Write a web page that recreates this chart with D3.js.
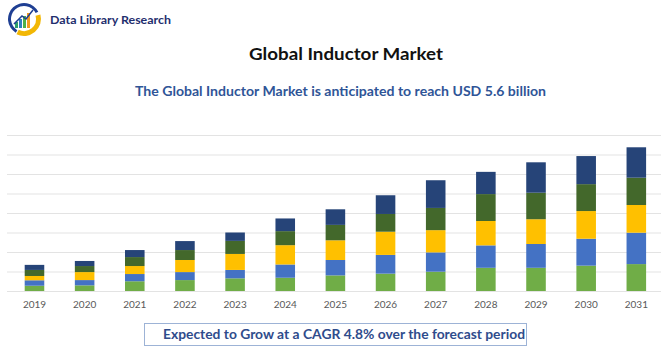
<!DOCTYPE html>
<html><head><meta charset="utf-8">
<script src="https://cdn.jsdelivr.net/npm/d3@7"></script>
<style>body{margin:0;background:#fff}svg{display:block}</style>
</head><body>
<script>
const years = ["2019","2020","2021","2022","2023","2024","2025","2026","2027","2028","2029","2030","2031"];
const seriesNames = ["s1","s2","s3","s4","s5"];
const s1 = [0.27,0.29,0.50,0.56,0.65,0.68,0.80,0.89,0.99,1.19,1.19,1.30,1.38];
const s2 = [0.28,0.27,0.37,0.41,0.43,0.68,0.79,0.96,0.99,1.15,1.22,1.38,1.61];
const s3 = [0.22,0.41,0.41,0.62,0.82,0.99,1.01,1.19,1.14,1.25,1.27,1.42,1.42];
const s4 = [0.31,0.31,0.46,0.51,0.67,0.72,0.79,0.91,1.14,1.38,1.36,1.38,1.40];
const s5 = [0.26,0.26,0.36,0.46,0.43,0.65,0.80,0.96,1.42,1.14,1.56,1.44,1.56];
const gridTicks = [0,1,2,3,4,5,6,7,8];
const colors = ["#70AD47","#4472C4","#FFC000","#43682B","#264478"];

const W=670,H=350;
const svg = d3.select("body").append("svg").attr("width",W).attr("height",H);

const table = years.map((y,i)=>({year:y,s1:s1[i],s2:s2[i],s3:s3[i],s4:s4[i],s5:s5[i]}));
const stacked = d3.stack().keys(seriesNames)(table);

const x = d3.scaleBand().domain(years).range([9.4,661.4]).paddingInner(0.61).paddingOuter(0.305);
const y = d3.scaleLinear().domain([0,8]).range([291,135]);

// gridlines
svg.append("g").selectAll("line").data(gridTicks).join("line")
  .attr("x1",7).attr("x2",661)
  .attr("y1",d=>y(d)+0.5).attr("y2",d=>y(d)+0.5)
  .attr("stroke","#E3E3E3").attr("stroke-width",1);

// bars
svg.append("g").selectAll("g").data(stacked).join("g")
  .attr("fill",(d,i)=>colors[i])
  .selectAll("rect").data(d=>d).join("rect")
  .attr("x",d=>x(d.data.year))
  .attr("width",x.bandwidth())
  .attr("y",d=>y(d[1]))
  .attr("height",d=>y(d[0])-y(d[1]));

// x axis
const xAxis = svg.append("g").attr("transform","translate(0,291)")
  .call(d3.axisBottom(x).tickSize(0).tickPadding(10));
xAxis.select(".domain").remove();
xAxis.selectAll("text").attr("font-family","Lato, 'Open Sans', sans-serif")
  .attr("font-size",10).attr("fill","#595959");

// title
svg.append("text").attr("x",346).attr("y",59.5).attr("text-anchor","middle")
  .attr("font-family","Lato, sans-serif").attr("font-weight","bold").attr("font-size",17)
  .attr("fill","#111").attr("textLength",194).attr("lengthAdjust","spacingAndGlyphs")
  .text("Global Inductor Market");

svg.append("text").attr("x",340.5).attr("y",96).attr("text-anchor","middle")
  .attr("font-family","Lato, sans-serif").attr("font-weight","bold").attr("font-size",13)
  .attr("fill","#2F5597").attr("textLength",411).attr("lengthAdjust","spacingAndGlyphs")
  .text("The Global Inductor Market is anticipated to reach USD 5.6 billion");

// bottom box
svg.append("rect").attr("x",144.5).attr("y",323.5).attr("width",382).attr("height",22)
  .attr("fill","#fff").attr("stroke","#9DB3D6").attr("stroke-width",1);
svg.append("text").attr("x",344).attr("y",338.5).attr("text-anchor","middle")
  .attr("font-family","Lato, sans-serif").attr("font-weight","bold").attr("font-size",13)
  .attr("fill","#2F4C8C").attr("textLength",362).attr("lengthAdjust","spacingAndGlyphs")
  .text("Expected to Grow at a CAGR 4.8% over the forecast period");

// logo
const logo = svg.append("g");
logo.append("path").attr("d",d3.arc()({innerRadius:13,outerRadius:16,startAngle:-2.6,endAngle:1.1}))
  .attr("transform","translate(24,19)").attr("fill","#1F3F93");
logo.append("path").attr("d",d3.arc()({innerRadius:12,outerRadius:17,startAngle:1.3,endAngle:3.6}))
  .attr("transform","translate(24,19)").attr("fill","#F2B705");
const lb = [[15,6,"#2E9E6B"],[19,9,"#2F7FC1"],[23,12,"#4DB04A"],[27,15,"#F29A1F"]];
logo.selectAll("rect.lb").data(lb).join("rect").attr("class","lb")
  .attr("x",d=>d[0]).attr("width",3).attr("y",d=>28-d[1]).attr("height",d=>d[1]).attr("fill",d=>d[2]);
logo.append("path").attr("d","M14,24 L22,16 L26,19 L33,10").attr("fill","none").attr("stroke","#1F3F93").attr("stroke-width",1.5);
logo.append("text").attr("x",50).attr("y",24.3)
  .attr("font-family","Lato, sans-serif").attr("font-weight","bold").attr("font-size",10.5)
  .attr("fill","#1F2F6E").attr("textLength",121).attr("lengthAdjust","spacingAndGlyphs")
  .text("Data Library Research");
</script>
</body></html>
